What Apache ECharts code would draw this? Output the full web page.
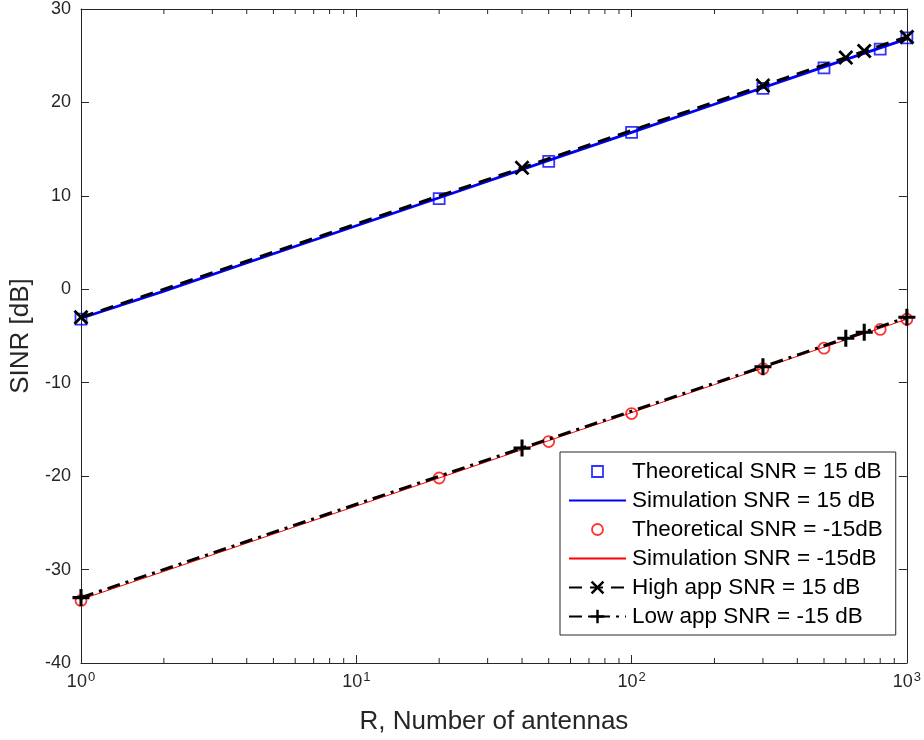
<!DOCTYPE html>
<html>
<head>
<meta charset="utf-8">
<script src="https://cdn.jsdelivr.net/npm/echarts@6/dist/echarts.min.js"></script>
<style>
  html, body { margin: 0; padding: 0; background: #fff; }
  #chart { width: 924px; height: 740px; }
</style>
</head>
<body>
<div id="chart"></div>
<script>
// Number of antennas R for each curve
const simR = [1, 2, 5, 10, 20, 50, 100, 200, 500, 1000];
const theoR = [1, 20, 50, 100, 300, 500, 800, 1000];
const appR = [1, 40, 300, 600, 700, 1000];

// SINR values in dB
const simHigh = [-3.1, -0.2, 3.8, 6.8, 9.8, 13.8, 16.8, 19.8, 23.8, 26.8];
const simLow = [-33.2, -30.2, -26.2, -23.2, -20.2, -16.2, -13.2, -10.2, -6.2, -3.2];
const theoHigh = [-3.2, 9.7, 13.7, 16.8, 21.5, 23.7, 25.7, 26.9];
const theoLow = [-33.3, -20.2, -16.3, -13.3, -8.5, -6.3, -4.3, -3.2];
const appHigh = [-3.0, 13.0, 21.8, 24.8, 25.5, 27.0];
const appLow = [-33.0, -17.0, -8.3, -5.25, -4.6, -3.0];

// Log-axis minor tick positions
const minorTicks = [2, 3, 4, 5, 6, 7, 8, 9, 20, 30, 40, 50, 60, 70, 80, 90, 200, 300, 400, 500, 600, 700, 800, 900];

const names = [
  'Theoretical SNR = 15 dB',
  'Simulation SNR = 15 dB',
  'Theoretical SNR = -15dB',
  'Simulation SNR = -15dB',
  'High app SNR = 15 dB',
  'Low app SNR = -15 dB'
];

const FONT = '"Liberation Sans", Arial, Helvetica, sans-serif';
const AX = '#262626';

// Marker outlines. The hollow square and circle live in a padded 17x17 box
// (the bare moves to 0,0 and 17,17 set the box) so they stay about 12px wide.
const SQUARE_PATH = 'path://M0,0M17,17M2.1,2.1H14.9V14.9H2.1Z M3.9,3.9V13.1H13.1V3.9Z';
const CIRCLE_PATH = 'path://M0,0M17,17M2.1,8.5A6.4,6.4 0 1,0 14.9,8.5A6.4,6.4 0 1,0 2.1,8.5Z M3.9,8.5A4.6,4.6 0 1,1 13.1,8.5A4.6,4.6 0 1,1 3.9,8.5Z';
const X_PATH = 'path://M-10,-7.4L-7.4,-10L0,-2.6L7.4,-10L10,-7.4L2.6,0L10,7.4L7.4,10L0,2.6L-7.4,10L-10,7.4L-2.6,0Z';
const PLUS_PATH = 'path://M-1.8,-10H1.8V-1.8H10V1.8H1.8V10H-1.8V1.8H-10V-1.8H-1.8Z';

const pairs = (xs, ys) => xs.map((x, i) => [x, ys[i]]);

const chart = echarts.init(document.getElementById('chart'), null, { renderer: 'canvas' });

const logAxisBase = {
  type: 'log',
  logBase: 10,
  min: 1,
  max: 1000,
  splitLine: { show: false },
  axisLine: { show: true, onZero: false, lineStyle: { color: AX, width: 1 } },
  axisTick: { show: true, inside: true, length: 8, lineStyle: { color: AX } }
};

const valAxisBase = {
  type: 'value',
  min: -40,
  max: 30,
  interval: 10,
  splitLine: { show: false },
  axisLine: { show: true, onZero: false, lineStyle: { color: AX, width: 1 } },
  axisTick: { show: true, inside: true, length: 8, lineStyle: { color: AX } }
};

chart.setOption({
  animation: false,
  backgroundColor: '#fff',
  textStyle: { fontFamily: FONT },
  grid: { left: 81, right: 14, top: 9, bottom: 77, containLabel: false },
  xAxis: [
    Object.assign({}, logAxisBase, {
      position: 'bottom',
      name: 'R, Number of antennas',
      nameLocation: 'middle',
      nameGap: 46,
      nameTextStyle: { fontSize: 26, color: AX, fontFamily: FONT },
      axisLabel: {
        margin: 8,
        color: AX,
        fontFamily: FONT,
        formatter: function (v) {
          return '{b|10}{s|' + Math.round(Math.log10(v)) + '}';
        },
        rich: {
          b: { fontSize: 18, color: AX, fontFamily: FONT },
          s: { fontSize: 13, color: AX, fontFamily: FONT, padding: [0, 0, 10, 1] }
        }
      }
    }),
    Object.assign({}, logAxisBase, {
      position: 'top',
      axisLabel: { show: false }
    })
  ],
  yAxis: [
    Object.assign({}, valAxisBase, {
      position: 'left',
      name: 'SINR [dB]',
      nameLocation: 'middle',
      nameGap: 43,
      nameTextStyle: { fontSize: 26, color: AX, fontFamily: FONT },
      axisLabel: { margin: 10, fontSize: 18, color: AX, fontFamily: FONT }
    }),
    Object.assign({}, valAxisBase, {
      position: 'right',
      axisLabel: { show: false }
    })
  ],
  legend: {
    data: [
      { name: names[0] },
      { name: names[1], itemStyle: { opacity: 0 } },
      { name: names[2] },
      { name: names[3], itemStyle: { opacity: 0 } },
      { name: names[4] },
      { name: names[5] }
    ],
    orient: 'vertical',
    left: 560,
    top: 452,
    padding: [8, 13, 7, 8],
    itemWidth: 57,
    itemHeight: 17,
    itemGap: 6,
    backgroundColor: '#fff',
    borderColor: AX,
    borderWidth: 1,
    borderRadius: 0,
    textStyle: { fontSize: 22.5, lineHeight: 22, color: '#000', fontFamily: FONT, padding: [0, 0, 0, 1] }
  },
  series: [
    {
      name: names[0],
      type: 'scatter',
      data: pairs(theoR, theoHigh),
      symbol: SQUARE_PATH,
      symbolSize: 17,
      itemStyle: { color: '#0000ff' },
      z: 3
    },
    {
      name: names[1],
      type: 'line',
      data: pairs(simR, simHigh),
      showSymbol: false,
      lineStyle: { color: '#0000ff', width: 2.8 },
      itemStyle: { color: '#0000ff' },
      z: 2
    },
    {
      name: names[2],
      type: 'scatter',
      data: pairs(theoR, theoLow),
      symbol: CIRCLE_PATH,
      symbolSize: 17,
      itemStyle: { color: '#ff0000' },
      z: 3
    },
    {
      name: names[3],
      type: 'line',
      data: pairs(simR, simLow),
      showSymbol: false,
      lineStyle: { color: '#ff0000', width: 1 },
      itemStyle: { color: '#ff0000' },
      z: 2
    },
    {
      name: names[4],
      type: 'line',
      data: pairs(appR, appHigh),
      symbol: X_PATH,
      symbolSize: 15,
      showAllSymbol: true,
      lineStyle: { color: '#000', width: 3, type: [13, 8] },
      itemStyle: { color: '#000' },
      z: 4
    },
    {
      name: names[5],
      type: 'line',
      data: pairs(appR, appLow),
      symbol: PLUS_PATH,
      symbolSize: 17,
      showAllSymbol: true,
      lineStyle: { color: '#000', width: 3, type: [13, 6, 3, 6] },
      itemStyle: { color: '#000' },
      z: 4
    },
    {
      // minor ticks of the log axis, bottom and top edges
      name: 'minorTicks',
      type: 'custom',
      silent: true,
      clip: false,
      data: minorTicks.map(v => [v]),
      encode: { x: 0 },
      renderItem: function (params, api) {
        const v = api.value(0);
        const b = api.coord([v, -40]);
        const t = api.coord([v, 30]);
        const st = { stroke: AX, lineWidth: 1 };
        return {
          type: 'group',
          children: [
            { type: 'line', shape: { x1: b[0], y1: b[1], x2: b[0], y2: b[1] - 5 }, style: st },
            { type: 'line', shape: { x1: t[0], y1: t[1], x2: t[0], y2: t[1] + 5 }, style: st }
          ]
        };
      },
      z: 1
    }
  ]
});
</script>
</body>
</html>
